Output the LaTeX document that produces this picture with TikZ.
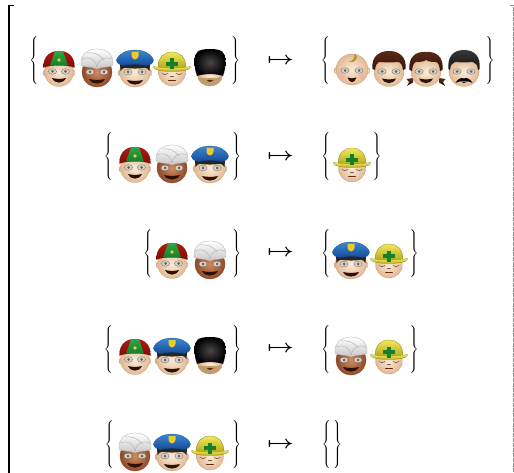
\documentclass[tikz,border=0pt]{standalone}
\usepackage{amsmath}
\definecolor{skinA}{HTML}{FCEBD8}
\definecolor{skinB}{HTML}{E2B993}
\definecolor{darkA}{HTML}{CF8A5E}
\definecolor{darkB}{HTML}{8F4A2A}
\definecolor{skinEdge}{HTML}{BC9673}
\definecolor{mouthC}{HTML}{2E0F0A}
\definecolor{eyeC}{HTML}{D6D3CC}
\definecolor{irisC}{HTML}{6A655C}
\definecolor{redA}{HTML}{B2190F}
\definecolor{redB}{HTML}{7E0D05}
\definecolor{greenA}{HTML}{2FA646}
\definecolor{greenB}{HTML}{14802C}
\definecolor{blueA}{HTML}{3E86D0}
\definecolor{blueB}{HTML}{134C9C}
\definecolor{yelA}{HTML}{EFE95A}
\definecolor{yelB}{HTML}{B7A91E}
\definecolor{badgeC}{HTML}{EBCB2E}
\definecolor{hairA}{HTML}{5C2A16}
\definecolor{hairB}{HTML}{33120A}
\definecolor{beardC}{HTML}{C39C6A}
\definecolor{curlC}{HTML}{B98F2C}
\tikzset{
  skin/.style={shading=radial,inner color=skinA,outer color=skinB,draw=skinEdge,line width=.2pt},
  darkskin/.style={shading=radial,inner color=darkA,outer color=darkB,draw=darkB,line width=.25pt},
  eyeball/.style={fill=eyeC,draw=irisC,line width=.3pt},
  iris/.style={fill=irisC},
  mouthfill/.style={fill=mouthC},
  closedeye/.style={draw=skinEdge!60!black,line width=.6pt,line cap=round},
  capred/.style={top color=redA,bottom color=redB,draw=redB,line width=.2pt},
  capgreen/.style={top color=greenA,bottom color=greenB},
  capyellow/.style={fill=badgeC},
  turbancloth/.style={top color=white,bottom color=black!22,draw=black!35,line width=.25pt},
  turbanfold/.style={draw=black!28,line width=.5pt},
  policeblue/.style={top color=blueA,bottom color=blueB,draw=blueB,line width=.2pt},
  helmetyellow/.style={top color=yelA,bottom color=yelB,draw=yelB!70!black,line width=.25pt},
  crossgreen/.style={fill=greenB},
  bearskin/.style={shading=radial,inner color=black!72,outer color=black},
  brownhair/.style={top color=hairA,bottom color=hairB},
  blackhair/.style={top color=black!78,bottom color=black!92},
  delim/.style={inner sep=0pt,outer sep=0pt},
  mapsym/.style={inner sep=0pt,outer sep=0pt,xscale=2.3,yscale=1.8},
  bracketL/.style={draw=black,line width=1.4pt},
  bracketLbead/.style={draw=black,line width=2.2pt,dash pattern=on 1.5pt off 3.5pt},
  bracketR/.style={draw=black!45,line width=.7pt,dash pattern=on 4pt off 1pt},
  pics/jockey/.style={code={
    \path[skin] (-14,12) ellipse [x radius=2,y radius=3];
    \path[skin] (14,12) ellipse [x radius=2,y radius=3];
    \path[skin] (0,11) ellipse [x radius=14.5,y radius=14.5];
    \path[capred] (-15.5,6.5) .. controls (-16,-4) and (-9,-10) .. (0,-10) .. controls (9,-10) and (16,-4) .. (15.5,6.5) .. controls (8,3.5) and (-8,3.5) .. cycle;
    \path[capgreen] (-4,-9.8) -- (4,-9.8) -- (9,4.5) .. controls (3,3.8) and (-3,3.8) .. (-9,4.5) -- cycle;
    \path[capyellow] (0,-1) circle [radius=1.9];
    \myeyes{6.5}{10.5}
    \mymouth{17}{7}
  }},
  pics/turban/.style={code={
    \path[darkskin] (0,11) ellipse [x radius=15,y radius=15];
    \path[turbancloth] (-16,4) .. controls (-17,-7) and (-9,-12) .. (0,-12) .. controls (9,-12) and (17,-7) .. (16,4) .. controls (13,7) and (7,5) .. (0,8) .. controls (-7,5) and (-13,7) .. cycle;
    \path[turbanfold] (-15,-2) .. controls (-7,-5) and (-2,-2) .. (0,6);
    \path[turbanfold] (15,-2) .. controls (7,-5) and (2,-2) .. (0,6);
    \path[turbanfold] (-10,-8) .. controls (-4,-9) and (3,-7) .. (7,-1);
    \myeyes{7}{11}
    \mymouth{18}{8}
  }},
  pics/police/.style={code={
    \path[skin] (-15,12) ellipse [x radius=2,y radius=3];
    \path[skin] (15,12) ellipse [x radius=2,y radius=3];
    \path[skin] (0,11) ellipse [x radius=15.5,y radius=15];
    \fill[black!85] (-15,3) -- (15,3) -- (14.5,10) .. controls (13,8) and (12,7) .. (10,6.8) .. controls (4,7.8) and (-4,7.8) .. (-10,6.8) .. controls (-12,7) and (-13,8) .. (-14.5,10) -- cycle;
    \path[policeblue] (-18.5,-1) .. controls (-16,-8) and (-8,-11) .. (0,-11) .. controls (8,-11) and (16,-8) .. (18.5,-1) .. controls (18,3) and (15,4) .. (12,4.5) .. controls (5,3) and (-5,3) .. (-12,4.5) .. controls (-15,4) and (-18,3) .. cycle;
    \path[capyellow] (-3.5,-9) -- (3.5,-9) -- (3.5,-5) .. controls (3.5,-3) and (1.5,-2) .. (0,-1.5) .. controls (-1.5,-2) and (-3.5,-3) .. (-3.5,-5) -- cycle;
    \myeyes{7}{11}
    \mymouth{19}{8}
  }},
  pics/helmet/.style={code={
    \path[skin] (0,11.5) ellipse [x radius=13.5,y radius=13.5];
    \path[helmetyellow] (-14,7) .. controls (-14,-4) and (-8,-9) .. (0,-9) .. controls (8,-9) and (14,-4) .. (14,7) -- cycle;
    \path[helmetyellow] (-18.5,5.5) .. controls (-12,7) and (12,7) .. (18.5,5.5) .. controls (20,8) and (12,10.5) .. (0,10.5) .. controls (-12,10.5) and (-20,8) .. cycle;
    \path[crossgreen] (-6,1) rectangle (6,5);
    \path[crossgreen] (-2,-2.5) rectangle (2,8.5);
    \path[closedeye] (-10,12.5) .. controls (-8,14) and (-6,14) .. (-4,12.5);
    \path[closedeye] (10,12.5) .. controls (8,14) and (6,14) .. (4,12.5);
    \path[closedeye] (-1.5,15.5) -- (1.5,15.5);
    \path[closedeye,draw=hairA] (-3.5,19.5) -- (3.5,19.5);
  }},
  pics/guard/.style={code={
    \path[skin] (0,14.5) ellipse [x radius=12.5,y radius=10.5];
    \fill[beardC] (-12,15) .. controls (-8,17.5) and (-4,17.5) .. (0,17) .. controls (4,17.5) and (8,17.5) .. (12,15) .. controls (11,22) and (6,25) .. (0,25) .. controls (-6,25) and (-11,22) .. cycle;
    \fill[hairA] (-3.5,19.5) .. controls (-1,18.5) and (1,18.5) .. (3.5,19.5) .. controls (1,21.5) and (-1,21.5) .. (-3.5,19.5) -- cycle;
    \path[bearskin] (-13,15) .. controls (-15,10) and (-15.5,5) .. (-15.5,0) .. controls (-15.5,-9) and (-12,-12) .. (0,-12) .. controls (12,-12) and (15.5,-9) .. (15.5,0) .. controls (15.5,5) and (15,10) .. (13,15) .. controls (6,12.5) and (-6,12.5) .. cycle;
  }},
  pics/baby/.style={code={
    \path[skin] (-16,9.5) ellipse [x radius=2,y radius=3];
    \path[skin] (16,9.5) ellipse [x radius=2,y radius=3];
    \path[skin] (0,8.5) ellipse [x radius=16,y radius=15.5];
    \fill[red!40,opacity=.35] (-10,15) circle [radius=3.2];
    \fill[red!40,opacity=.35] (10,15) circle [radius=3.2];
    \fill[curlC] (4,-7) .. controls (6.5,-3) and (3,2.5) .. (-3.5,1) .. controls (1,0) and (3,-3) .. (2.5,-6.5) -- cycle;
    \myeyes{7}{9.5}
    \mymouth{16.5}{4.5}
  }},
  pics/boy/.style={code={
    \path[skin] (0,11) ellipse [x radius=15,y radius=14.5];
    \path[brownhair] (-16.5,8) .. controls (-18,-4) and (-10,-10) .. (0,-10) .. controls (10,-10) and (18,-4) .. (16.5,8) -- (14,9) .. controls (13.5,4) and (12,2) .. (10,1) .. controls (3,1.5) and (-3,1.5) .. (-10,1) .. controls (-12,2) and (-13.5,4) .. (-14,9) -- cycle;
    \myeyes{7}{10.5}
    \mymouth{17.5}{7}
  }},
  pics/girl/.style={code={
    \path[brownhair] (-13,17) -- (-19.5,18) -- (-17,21) -- (-19,25) -- (-13,21.5) -- cycle;
    \path[brownhair] (13,17) -- (19.5,18) -- (17,21) -- (19,25) -- (13,21.5) -- cycle;
    \path[skin] (0,11) ellipse [x radius=15,y radius=14.5];
    \path[brownhair] (-16.5,9) .. controls (-18,-4) and (-10,-10) .. (0,-9) .. controls (10,-10) and (18,-4) .. (16.5,9) -- (14,10) .. controls (13.5,4) and (12,1.5) .. (10,1) .. controls (3,1) and (1,0) .. (0,-1) .. controls (-1,0) and (-3,1) .. (-10,1) .. controls (-12,1.5) and (-13.5,4) .. (-14,10) -- cycle;
    \myeyes{7}{10.5}
    \mymouth{17.5}{7}
  }},
  pics/man/.style={code={
    \path[skin] (0,11) ellipse [x radius=15,y radius=14.5];
    \path[blackhair] (-15.5,8) .. controls (-17,-5) and (-10,-11) .. (0,-11) .. controls (10,-11) and (17,-5) .. (15.5,8) -- (14,9) .. controls (13.5,4) and (12,2) .. (9,1) .. controls (3,1.5) and (-3,1.5) .. (-9,1) .. controls (-12,2) and (-13.5,4) .. (-14,9) -- cycle;
    \myeyes{7}{10.5}
    \fill[mouthC] (-2.5,21) .. controls (-1,22.5) and (1,22.5) .. (2.5,21) -- cycle;
    \fill[black] (-8.5,22) .. controls (-6,17) and (-2,16.5) .. (0,17.5) .. controls (2,16.5) and (6,17) .. (8.5,22) .. controls (5,20) and (2,20.5) .. (0,20.5) .. controls (-2,20.5) and (-5,20) .. cycle;
  }},
}
\newcommand{\myeyes}[2]{%
  \path[eyeball] (-#1,#2) ellipse [x radius=4.1,y radius=2.8];
  \path[eyeball] (#1,#2) ellipse [x radius=4.1,y radius=2.8];
  \path[iris] (-#1,#2) circle [radius=1.5];
  \path[iris] (#1,#2) circle [radius=1.5];
}
\newcommand{\mymouth}[2]{%
  \path[mouthfill] (-#2,#1) .. controls (-#2*.4,#1+1.2) and (#2*.4,#1+1.2) .. (#2,#1) .. controls (#2*.6,#1+6.2) and (-#2*.6,#1+6.2) .. cycle;
}
\newcommand{\lbr}{\(\left\{\vcenter{\hbox{\vrule height 25.5pt depth 25.5pt width 0pt}}\right.\)}
\newcommand{\rbr}{\(\left.\vcenter{\hbox{\vrule height 25.5pt depth 25.5pt width 0pt}}\right\}\)}
\newcommand{\arrowsym}{{\boldmath\(\mapsto\)}}
\begin{document}
\begin{tikzpicture}[x=1pt,y=-1pt]
\useasboundingbox (0,0) rectangle (514,473);
% outer brackets
\draw[bracketL] (14,5.5) -- (9,5.5) -- (9,473);
\draw[bracketLbead] (9,6) -- (9,473);
\draw[bracketR] (510,5.5) -- (513,5.5) -- (513,473);
% row 1
\node[delim] (l1) at (34.5,61) {\lbr};
\pic at (59,61) {jockey};
\pic at (97,61) {turban};
\pic at (135,61) {police};
\pic at (172,61) {helmet};
\pic at (210,61) {guard};
\node[delim] (r1) at (235,61) {\rbr};
\node[mapsym] (m1) at (280.5,61) {\arrowsym};
\node[delim] (a1) at (326,61) {\lbr};
\pic at (352,61) {baby};
\pic at (389,61) {boy};
\pic at (426,61) {girl};
\pic at (464,61) {man};
\node[delim] (b1) at (489.5,61) {\rbr};
% row 2
\node[delim] (l2) at (109,157) {\lbr};
\pic at (135,157) {jockey};
\pic at (172,157) {turban};
\pic at (210,157) {police};
\node[delim] (r2) at (236,157) {\rbr};
\node[mapsym] (m2) at (280.5,157) {\arrowsym};
\node[delim] (a2) at (326.5,157) {\lbr};
\pic at (352,157) {helmet};
\node[delim] (b2) at (376.5,157) {\rbr};
% row 3
\node[delim] (l3) at (148.5,253) {\lbr};
\pic at (172,253) {jockey};
\pic at (210,253) {turban};
\node[delim] (r3) at (236,253) {\rbr};
\node[mapsym] (m3) at (280.5,253) {\arrowsym};
\node[delim] (a3) at (326.5,253) {\lbr};
\pic at (351,253) {police};
\pic at (389,253) {helmet};
\node[delim] (b3) at (413.5,253) {\rbr};
% row 4
\node[delim] (l4) at (109,349) {\lbr};
\pic at (135,349) {jockey};
\pic at (172,349) {police};
\pic at (210,349) {guard};
\node[delim] (r4) at (236,349) {\rbr};
\node[mapsym] (m4) at (280.5,349) {\arrowsym};
\node[delim] (a4) at (326.5,349) {\lbr};
\pic at (351,349) {turban};
\pic at (389,349) {helmet};
\node[delim] (b4) at (413.5,349) {\rbr};
% row 5
\node[delim] (l5) at (110,444.5) {\lbr};
\pic at (135,445) {turban};
\pic at (172,445) {police};
\pic at (210,445) {helmet};
\node[delim] (r5) at (236,444.5) {\rbr};
\node[mapsym] (m5) at (280.5,444.5) {\arrowsym};
\node[delim] (a5) at (327,444.5) {\lbr};
\node[delim] (b5) at (337,444.5) {\rbr};
\end{tikzpicture}
\end{document}
